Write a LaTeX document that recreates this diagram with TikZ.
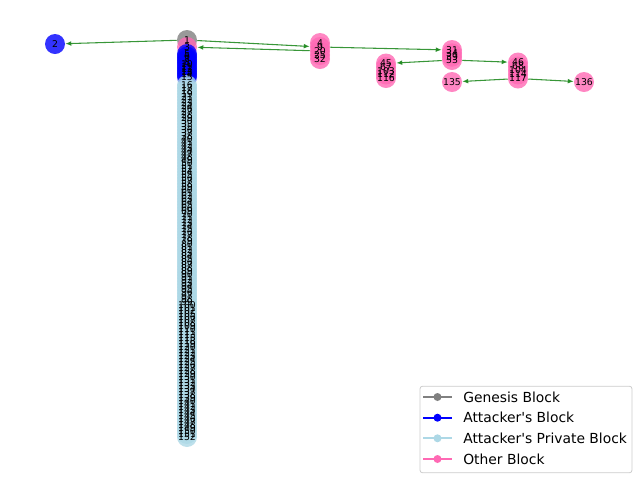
\documentclass[tikz,border=0pt]{standalone}
\usepackage{fontspec}
\setmainfont{DejaVu Sans}[Ligatures=TeXOff]
\usetikzlibrary{arrows.meta}
\definecolor{gblock}{RGB}{128,128,128}
\definecolor{ablock}{RGB}{0,0,255}
\definecolor{pblock}{RGB}{173,216,230}
\definecolor{oblock}{RGB}{255,105,180}
\definecolor{edgegreen}{RGB}{34,139,34}
\tikzset{
  blk/.style={circle, minimum size=15pt, inner sep=0pt, draw=none, fill opacity=0.8},
  lbl/.style={inner sep=0pt, font=\fontsize{7}{7}\selectfont, text=black},
  link/.style={draw=edgegreen, draw opacity=0.9, line width=0.8pt, -{Latex[length=4.5pt,width=3.6pt]}},
  legendbox/.style={draw=black!20, fill=white, rounded corners=2pt, line width=0.6pt, minimum width=159pt, minimum height=65pt, inner sep=0pt},
  legtext/.style={anchor=west, inner sep=0pt, font=\fontsize{10.4}{10.4}\selectfont},
}
\begin{document}
\begin{tikzpicture}[x=0.75pt,y=-0.75pt]
\useasboundingbox (0,0) rectangle (640,480);
% left attacker block
\node[blk, fill=ablock] (a2) at (55,44) {};
% genesis and column
\node[blk, fill=gblock] (a1) at (187,40) {};
\node[blk, fill=oblock] (a3) at (187,47) {};
\foreach \lab [count=\k from 0] in {5,6,7,8,10,11,12,13,14,15}
  \node[blk, fill=ablock] (a\lab) at (187,{54+\k*2.55}) {};
\foreach \lab [count=\k from 0] in {16,17,18,19,21,22,23,24,26,27,28,29,30,33,35,36,37,38,40,41,42,43,44,47,48,49,50,51,52,54,55,56,57,58,59,60,61,62,63,64,65,66,69,70,71,72,73,74,75,76,77,78,79,80,81,82,83,84,85,86,87,88,89,90,91,92,93,94,95,96,97,98,99,100,101,102,105,106,107,108,109,110,111,113,115,118,119,120,121,122,123,124,125,126,127,128,129,130,131,132,133,134,137,138,139,140,141,142,143,144,145,146,147,148,149,150,151,152}
  \node[blk, fill=pblock] (a\lab) at (187,{85+\k*3.0085}) {};
% other blocks
\node[blk, fill=oblock] (h4)  at (320,43) {};
\node[blk, fill=oblock] (h9)  at (320,47) {};
\node[blk, fill=oblock] (h20) at (320,51) {};
\node[blk, fill=oblock] (h25) at (320,55) {};
\node[blk, fill=oblock] (h32) at (320,59) {};
\node[blk, fill=oblock] (h31) at (452,50) {};
\node[blk, fill=oblock] (h34) at (452,53.3) {};
\node[blk, fill=oblock] (h39) at (452,56.7) {};
\node[blk, fill=oblock] (h53) at (452,60) {};
\node[blk, fill=oblock] (h45)  at (386,63.5) {};
\node[blk, fill=oblock] (h67)  at (386,67) {};
\node[blk, fill=oblock] (h103) at (386,71) {};
\node[blk, fill=oblock] (h112) at (386,74.5) {};
\node[blk, fill=oblock] (h116) at (386,78) {};
\node[blk, fill=oblock] (h46)  at (518,62.5) {};
\node[blk, fill=oblock] (h68)  at (518,66.5) {};
\node[blk, fill=oblock] (h104) at (518,70.5) {};
\node[blk, fill=oblock] (h114) at (518,74.5) {};
\node[blk, fill=oblock] (h117) at (518,78.5) {};
\node[blk, fill=oblock] (h135) at (452,82) {};
\node[blk, fill=oblock] (h136) at (584,82) {};
% edges
\draw[link] (a1) -- (a2);
\draw[link] (a1) -- (h9);
\draw[link] (h20) -- (a3);
\draw[link] (h9) -- (h31);
\draw[link] (h53) -- (h45);
\draw[link] (h53) -- (h46);
\draw[link] (h117) -- (h135);
\draw[link] (h117) -- (h136);
% labels
\foreach \lab in {2,1,3,5,6,7,8,10,11,12,13,14,15,16,17,18,19,21,22,23,24,26,27,28,29,30,33,35,36,37,38,40,41,42,43,44,47,48,49,50,51,52,54,55,56,57,58,59,60,61,62,63,64,65,66,69,70,71,72,73,74,75,76,77,78,79,80,81,82,83,84,85,86,87,88,89,90,91,92,93,94,95,96,97,98,99,100,101,102,105,106,107,108,109,110,111,113,115,118,119,120,121,122,123,124,125,126,127,128,129,130,131,132,133,134,137,138,139,140,141,142,143,144,145,146,147,148,149,150,151,152}
  \node[lbl] (ta\lab) at (a\lab) {\lab};
\foreach \lab in {4,9,20,25,32,31,34,39,53,45,67,103,112,116,46,68,104,114,117,135,136}
  \node[lbl] (th\lab) at (h\lab) {\lab};
% legend
\node[legendbox] (lg) at (526,429.5) {};
\foreach \c/\t/\yy [count=\k] in {gblock/Genesis Block/397, ablock/Attacker's Block/417.7, pblock/Attacker's Private Block/438.3, oblock/Other Block/459}{
  \coordinate (ls\k) at (423,\yy);
  \coordinate (le\k) at (452,\yy);
  \draw[\c, line width=1.5pt] (ls\k) -- (le\k);
  \fill[\c] (437.5,\yy) circle (3pt);
  \node[legtext] (lt\k) at (463,\yy) {\t};
}
\end{tikzpicture}
\end{document}
